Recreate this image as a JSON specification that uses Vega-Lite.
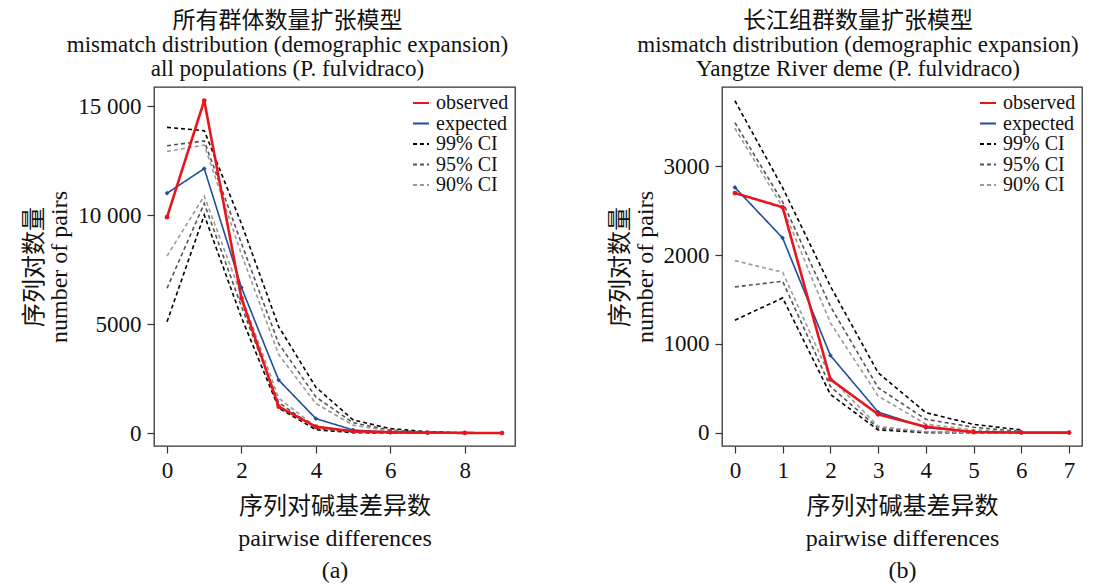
{
  "$schema": "https://vega.github.io/schema/vega-lite/v6.json",
  "padding": {"left": 22, "top": 9, "right": 5, "bottom": 0},
  "datasets": {
    "a": [
      {"x":0,"series":"observed","bound":"mid","y":9900},{"x":1,"series":"observed","bound":"mid","y":15250},{"x":2,"series":"observed","bound":"mid","y":6180},{"x":3,"series":"observed","bound":"mid","y":1210},{"x":4,"series":"observed","bound":"mid","y":290},{"x":5,"series":"observed","bound":"mid","y":80},{"x":6,"series":"observed","bound":"mid","y":40},{"x":7,"series":"observed","bound":"mid","y":20},{"x":8,"series":"observed","bound":"mid","y":5},{"x":9,"series":"observed","bound":"mid","y":0},
      {"x":0,"series":"expected","bound":"mid","y":11000},{"x":1,"series":"expected","bound":"mid","y":12130},{"x":2,"series":"expected","bound":"mid","y":6670},{"x":3,"series":"expected","bound":"mid","y":2430},{"x":4,"series":"expected","bound":"mid","y":660},{"x":5,"series":"expected","bound":"mid","y":140},{"x":6,"series":"expected","bound":"mid","y":30},{"x":7,"series":"expected","bound":"mid","y":5},{"x":8,"series":"expected","bound":"mid","y":0},{"x":9,"series":"expected","bound":"mid","y":0},
      {"x":0,"series":"99% CI","bound":"upper","y":14020},{"x":1,"series":"99% CI","bound":"upper","y":13870},{"x":2,"series":"99% CI","bound":"upper","y":9600},{"x":3,"series":"99% CI","bound":"upper","y":4880},{"x":4,"series":"99% CI","bound":"upper","y":2100},{"x":5,"series":"99% CI","bound":"upper","y":600},{"x":6,"series":"99% CI","bound":"upper","y":200},{"x":7,"series":"99% CI","bound":"upper","y":60},{"x":8,"series":"99% CI","bound":"upper","y":10},
      {"x":0,"series":"99% CI","bound":"lower","y":5100},{"x":1,"series":"99% CI","bound":"lower","y":10000},{"x":2,"series":"99% CI","bound":"lower","y":5300},{"x":3,"series":"99% CI","bound":"lower","y":1150},{"x":4,"series":"99% CI","bound":"lower","y":150},{"x":5,"series":"99% CI","bound":"lower","y":15},{"x":6,"series":"99% CI","bound":"lower","y":0},{"x":7,"series":"99% CI","bound":"lower","y":0},{"x":8,"series":"99% CI","bound":"lower","y":0},
      {"x":0,"series":"95% CI","bound":"upper","y":13180},{"x":1,"series":"95% CI","bound":"upper","y":13400},{"x":2,"series":"95% CI","bound":"upper","y":8700},{"x":3,"series":"95% CI","bound":"upper","y":4100},{"x":4,"series":"95% CI","bound":"upper","y":1650},{"x":5,"series":"95% CI","bound":"upper","y":470},{"x":6,"series":"95% CI","bound":"upper","y":130},{"x":7,"series":"95% CI","bound":"upper","y":35},{"x":8,"series":"95% CI","bound":"upper","y":5},
      {"x":0,"series":"95% CI","bound":"lower","y":6640},{"x":1,"series":"95% CI","bound":"lower","y":10530},{"x":2,"series":"95% CI","bound":"lower","y":5800},{"x":3,"series":"95% CI","bound":"lower","y":1400},{"x":4,"series":"95% CI","bound":"lower","y":220},{"x":5,"series":"95% CI","bound":"lower","y":30},{"x":6,"series":"95% CI","bound":"lower","y":5},{"x":7,"series":"95% CI","bound":"lower","y":0},{"x":8,"series":"95% CI","bound":"lower","y":0},
      {"x":0,"series":"90% CI","bound":"upper","y":12920},{"x":1,"series":"90% CI","bound":"upper","y":13210},{"x":2,"series":"90% CI","bound":"upper","y":8200},{"x":3,"series":"90% CI","bound":"upper","y":3600},{"x":4,"series":"90% CI","bound":"upper","y":1350},{"x":5,"series":"90% CI","bound":"upper","y":360},{"x":6,"series":"90% CI","bound":"upper","y":90},{"x":7,"series":"90% CI","bound":"upper","y":20},{"x":8,"series":"90% CI","bound":"upper","y":3},
      {"x":0,"series":"90% CI","bound":"lower","y":8120},{"x":1,"series":"90% CI","bound":"lower","y":10870},{"x":2,"series":"90% CI","bound":"lower","y":6300},{"x":3,"series":"90% CI","bound":"lower","y":1600},{"x":4,"series":"90% CI","bound":"lower","y":280},{"x":5,"series":"90% CI","bound":"lower","y":40},{"x":6,"series":"90% CI","bound":"lower","y":8},{"x":7,"series":"90% CI","bound":"lower","y":0},{"x":8,"series":"90% CI","bound":"lower","y":0}
    ],
    "b": [
      {"x":0,"series":"observed","bound":"mid","y":2700},{"x":1,"series":"observed","bound":"mid","y":2540},{"x":2,"series":"observed","bound":"mid","y":600},{"x":3,"series":"observed","bound":"mid","y":206},{"x":4,"series":"observed","bound":"mid","y":67},{"x":5,"series":"observed","bound":"mid","y":5},{"x":6,"series":"observed","bound":"mid","y":0},{"x":7,"series":"observed","bound":"mid","y":0},
      {"x":0,"series":"expected","bound":"mid","y":2763},{"x":1,"series":"expected","bound":"mid","y":2193},{"x":2,"series":"expected","bound":"mid","y":870},{"x":3,"series":"expected","bound":"mid","y":232},{"x":4,"series":"expected","bound":"mid","y":56},{"x":5,"series":"expected","bound":"mid","y":10},{"x":6,"series":"expected","bound":"mid","y":2},{"x":7,"series":"expected","bound":"mid","y":0},
      {"x":0,"series":"99% CI","bound":"upper","y":3740},{"x":1,"series":"99% CI","bound":"upper","y":2760},{"x":2,"series":"99% CI","bound":"upper","y":1650},{"x":3,"series":"99% CI","bound":"upper","y":675},{"x":4,"series":"99% CI","bound":"upper","y":225},{"x":5,"series":"99% CI","bound":"upper","y":93},{"x":6,"series":"99% CI","bound":"upper","y":30},
      {"x":0,"series":"99% CI","bound":"lower","y":1267},{"x":1,"series":"99% CI","bound":"lower","y":1518},{"x":2,"series":"99% CI","bound":"lower","y":431},{"x":3,"series":"99% CI","bound":"lower","y":30},{"x":4,"series":"99% CI","bound":"lower","y":0},{"x":5,"series":"99% CI","bound":"lower","y":0},{"x":6,"series":"99% CI","bound":"lower","y":0},
      {"x":0,"series":"95% CI","bound":"upper","y":3494},{"x":1,"series":"95% CI","bound":"upper","y":2600},{"x":2,"series":"95% CI","bound":"upper","y":1424},{"x":3,"series":"95% CI","bound":"upper","y":506},{"x":4,"series":"95% CI","bound":"upper","y":150},{"x":5,"series":"95% CI","bound":"upper","y":60},{"x":6,"series":"95% CI","bound":"upper","y":12},
      {"x":0,"series":"95% CI","bound":"lower","y":1642},{"x":1,"series":"95% CI","bound":"lower","y":1706},{"x":2,"series":"95% CI","bound":"lower","y":520},{"x":3,"series":"95% CI","bound":"lower","y":50},{"x":4,"series":"95% CI","bound":"lower","y":5},{"x":5,"series":"95% CI","bound":"lower","y":0},{"x":6,"series":"95% CI","bound":"lower","y":0},
      {"x":0,"series":"90% CI","bound":"upper","y":3430},{"x":1,"series":"90% CI","bound":"upper","y":2540},{"x":2,"series":"90% CI","bound":"upper","y":1237},{"x":3,"series":"90% CI","bound":"upper","y":412},{"x":4,"series":"90% CI","bound":"upper","y":95},{"x":5,"series":"90% CI","bound":"upper","y":30},{"x":6,"series":"90% CI","bound":"upper","y":5},
      {"x":0,"series":"90% CI","bound":"lower","y":1938},{"x":1,"series":"90% CI","bound":"lower","y":1807},{"x":2,"series":"90% CI","bound":"lower","y":620},{"x":3,"series":"90% CI","bound":"lower","y":70},{"x":4,"series":"90% CI","bound":"lower","y":10},{"x":5,"series":"90% CI","bound":"lower","y":0},{"x":6,"series":"90% CI","bound":"lower","y":0}
    ]
  },
  "spacing": 91,
  "resolve": {"scale": {"color": "independent", "strokeDash": "independent"}},
  "hconcat": [
    {
      "width": 361, "height": 359,
      "title": {"text": ["所有群体数量扩张模型", "mismatch distribution (demographic expansion)", "all populations (P. fulvidraco)"], "frame": "group", "anchor": "middle", "dx": -47, "offset": 6},
      "data": {"name": "a"},
      "encoding": {
        "x": {"field": "x", "type": "quantitative", "scale": {"domain": [-0.35, 9.35], "nice": false, "zero": false},
              "axis": {"values": [0,2,4,6,8], "title": ["序列对碱基差异数", "pairwise differences", "(a)"]}},
        "y": {"field": "y", "type": "quantitative", "scale": {"domain": [-596, 15872], "nice": false, "zero": false},
              "axis": {"values": [0,5000,10000,15000], "title": ["序列对数量", "number of pairs"],
                       "labelExpr": "datum.value >= 10000 ? replace(format(datum.value, ','), ',', ' ') : format(datum.value, 'd')"}},
        "color": {"field": "series", "type": "nominal", "scale": {"domain": ["observed","expected","99% CI","95% CI","90% CI"], "range": ["#e8161b","#1f4e9e","#000000","#555555","#9a9a9a"]}, "legend": {"title": null}},
        "strokeDash": {"field": "series", "type": "nominal", "scale": {"domain": ["observed","expected","99% CI","95% CI","90% CI"], "range": [[1,0],[1,0],[4,3],[4,3],[4,3]]}, "legend": {"title": null}},
        "detail": {"field": "bound", "type": "nominal"}
      },
      "layer": [
        {"transform": [{"filter": "indexof(datum.series, 'CI') >= 0"}], "mark": {"type": "line", "strokeWidth": 1.6}},
        {"transform": [{"filter": "datum.series === 'expected'"}], "mark": {"type": "line", "strokeWidth": 1.6, "point": {"filled": true, "size": 22, "shape": "diamond"}}},
        {"transform": [{"filter": "datum.series === 'observed'"}], "mark": {"type": "line", "strokeWidth": 2.6, "point": {"filled": true, "size": 22}}}
      ]
    },
    {
      "width": 360, "height": 359,
      "title": {"text": ["长江组群数量扩张模型", "mismatch distribution (demographic expansion)", "Yangtze River deme (P. fulvidraco)"], "frame": "group", "anchor": "middle", "dx": -44, "offset": 6},
      "data": {"name": "b"},
      "encoding": {
        "x": {"field": "x", "type": "quantitative", "scale": {"domain": [-0.27, 7.27], "nice": false, "zero": false},
              "axis": {"values": [0,1,2,3,4,5,6,7], "title": ["序列对碱基差异数", "pairwise differences", "(b)"]}},
        "y": {"field": "y", "type": "quantitative", "scale": {"domain": [-151, 3895], "nice": false, "zero": false},
              "axis": {"values": [0,1000,2000,3000], "format": "d", "title": ["序列对数量", "number of pairs"]}},
        "color": {"field": "series", "type": "nominal", "scale": {"domain": ["observed","expected","99% CI","95% CI","90% CI"], "range": ["#e8161b","#1f4e9e","#000000","#555555","#9a9a9a"]}, "legend": {"title": null}},
        "strokeDash": {"field": "series", "type": "nominal", "scale": {"domain": ["observed","expected","99% CI","95% CI","90% CI"], "range": [[1,0],[1,0],[4,3],[4,3],[4,3]]}, "legend": {"title": null}},
        "detail": {"field": "bound", "type": "nominal"}
      },
      "layer": [
        {"transform": [{"filter": "indexof(datum.series, 'CI') >= 0"}], "mark": {"type": "line", "strokeWidth": 1.6}},
        {"transform": [{"filter": "datum.series === 'expected'"}], "mark": {"type": "line", "strokeWidth": 1.6, "point": {"filled": true, "size": 22, "shape": "diamond"}}},
        {"transform": [{"filter": "datum.series === 'observed'"}], "mark": {"type": "line", "strokeWidth": 2.6, "point": {"filled": true, "size": 22}}}
      ]
    }
  ],
  "config": {
    "font": "Liberation Serif, Noto Sans CJK SC",
    "view": {"stroke": "#333333", "strokeWidth": 1.3},
    "title": {"font": "Liberation Serif, Noto Sans CJK SC", "fontSize": 23, "fontWeight": "normal", "lineHeight": 24, "color": "#111111"},
    "axis": {"domain": false, "grid": false, "ticks": true, "tickSize": 7, "tickColor": "#333333", "tickWidth": 1.2,
             "labelFont": "Liberation Serif", "labelFontSize": 23, "labelColor": "#111111", "labelPadding": 6,
             "titleFont": "Liberation Serif, Noto Sans CJK SC", "titleFontSize": 24, "titleFontWeight": "normal", "titleColor": "#111111"},
    "axisX": {"titleLineHeight": 32, "titlePadding": 12},
    "axisY": {"titleLineHeight": 25, "titlePadding": 6},
    "legend": {"orient": "top-right", "offset": 6, "padding": 0, "labelFont": "Liberation Serif", "labelFontSize": 20, "labelColor": "#111111",
               "symbolType": "stroke", "symbolSize": 256, "symbolStrokeWidth": 1.8, "rowPadding": 0.5, "labelOffset": 5}
  }
}
